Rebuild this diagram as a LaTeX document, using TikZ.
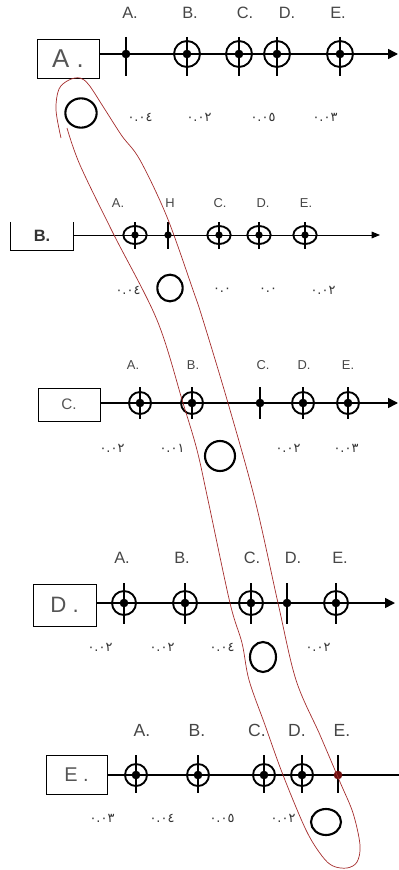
\documentclass[tikz,border=0pt]{standalone}
\usepackage{fontspec}
\setmainfont{Liberation Sans}
\newfontfamily\arabicfont[Script=Arabic]{DejaVu Sans}
\usetikzlibrary{arrows.meta}
\definecolor{loopred}{RGB}{165,45,45}
\definecolor{txtgray}{RGB}{70,70,70}
\definecolor{boxgray}{RGB}{85,85,85}
\definecolor{dotred}{RGB}{110,15,15}

\begin{document}
\begin{tikzpicture}[x=0.03cm,y=-0.03cm,
    every node/.style={inner sep=0pt},
    rowbox/.style={draw,line width=0.8pt,inner sep=0pt,text=boxgray},
    mlabel/.style={text=txtgray},
    val/.style={font=\arabicfont\fontsize{11}{11}\selectfont,text=black!80},
    tickln/.style={line width=1.6pt},
    ringln/.style={line width=1.6pt},
    axis/.style={line width=1.3pt,-{Triangle[length=0.3cm,width=0.3cm]}},
    hollow/.style={line width=1.8pt}]
  \useasboundingbox (0,0) rectangle (399,870);

  % --- row A ---
  \node[rowbox,minimum width=1.86cm,minimum height=1.17cm,
        font=\fontsize{22}{22}\selectfont] (boxA) at (68,58.5) {A .};
  \coordinate (endA) at (398,54);
  \draw[axis] (boxA.east |- endA) -- (endA);
  \foreach \x/\t in {130/A,190/B,245/C,287/D,338/E}
    \node[mlabel,font=\fontsize{14}{14}\selectfont] (lblA-\t) at (\x,13) {\t.};
  \foreach \x in {187,239,277,340}{
    \draw[tickln] (\x,37) -- (\x,76);
    \draw[ringln] (\x,54) circle[radius=0.39cm];
    \fill (\x,54) circle[radius=0.13cm];
  }
  \draw[tickln] (126,37) -- (126,76);
  \fill (126,54) circle[radius=0.13cm];
  \foreach \x/\v [count=\i] in {140/٠.٠٤,199/٠.٠٢,263/٠.٠٥,325/٠.٠٣}
    \node[val] (valA-\i) at (\x,117) {\v};
  \draw[hollow] (81,113) ellipse[x radius=0.47cm,y radius=0.44cm];

  % --- row B (open box, thin axis) ---
  \node[minimum width=1.86cm,minimum height=0.84cm,text=black!80,
        font=\bfseries\fontsize{14}{14}\selectfont] (boxB) at (42,236) {B.};
  \draw[line width=0.8pt] (boxB.north west) |- (boxB.south east) -- (boxB.north east);
  \coordinate (endB) at (380,235);
  \draw[line width=0.8pt,-{Triangle[length=0.25cm,width=0.2cm]}] (boxB.east |- endB) -- (endB);
  \foreach \x/\t in {118/A.,170/H,220/C.,263/D.,306/E.}
    \node[mlabel,font=\fontsize{11}{11}\selectfont] (lblB-\x) at (\x,203) {\t};
  \foreach \x in {135,219,259,305}{
    \draw[tickln] (\x,222) -- (\x,249);
    \draw[ringln] (\x,235) ellipse[x radius=0.35cm,y radius=0.27cm];
    \fill (\x,235) circle[radius=0.11cm];
  }
  \draw[tickln] (168,222) -- (168,249);
  \fill (168,235) circle[radius=0.11cm];
  \foreach \x/\v [count=\i] in {128/٠.٠٤,222/٠.٠,268/٠.٠,323/٠.٠٢}
    \node[val] (valB-\i) at (\x,290) {\v};
  \draw[hollow] (170,288) ellipse[x radius=0.38cm,y radius=0.4cm];

  % --- row C ---
  \node[rowbox,minimum width=1.86cm,minimum height=0.99cm,
        font=\fontsize{13}{13}\selectfont] (boxC) at (69,404.5) {C.};
  \coordinate (endC) at (398,403);
  \draw[axis] (boxC.east |- endC) -- (endC);
  \foreach \x/\t in {133/A,193/B,263/C,304/D,348/E}
    \node[mlabel,font=\fontsize{11}{11}\selectfont] (lblC-\t) at (\x,365) {\t.};
  \foreach \x in {140,192,303,348}{
    \draw[tickln] (\x,387) -- (\x,419);
    \draw[ringln] (\x,403) circle[radius=0.33cm];
    \fill (\x,403) circle[radius=0.13cm];
  }
  \draw[tickln] (260,387) -- (260,419);
  \fill (260,403) circle[radius=0.13cm];
  \foreach \x/\v [count=\i] in {112/٠.٠٢,172/٠.٠١,288/٠.٠٢,346/٠.٠٣}
    \node[val] (valC-\i) at (\x,448) {\v};
  \draw[hollow] (220,456) ellipse[x radius=0.45cm,y radius=0.45cm];

  % --- row D ---
  \node[rowbox,minimum width=1.89cm,minimum height=1.26cm,
        font=\fontsize{19}{19}\selectfont] (boxD) at (64.5,605) {D .};
  \coordinate (endD) at (395,603);
  \draw[axis] (boxD.east |- endD) -- (endD);
  \foreach \x/\t in {122/A,182/B,252/C,293/D,340/E}
    \node[mlabel,font=\fontsize{14}{14}\selectfont] (lblD-\t) at (\x,558) {\t.};
  \foreach \x in {124,185,251,336}{
    \draw[tickln] (\x,583) -- (\x,624);
    \draw[ringln] (\x,603) circle[radius=0.36cm];
    \fill (\x,603) circle[radius=0.13cm];
  }
  \draw[tickln] (287,583) -- (287,624);
  \fill (287,603) circle[radius=0.13cm];
  \foreach \x/\v [count=\i] in {100/٠.٠٢,162/٠.٠٢,222/٠.٠٤,318/٠.٠٢}
    \node[val] (valD-\i) at (\x,647) {\v};
  \draw[hollow] (263,657) ellipse[x radius=0.39cm,y radius=0.45cm];

  % --- row E (arrow runs off the right edge) ---
  \node[rowbox,minimum width=1.83cm,minimum height=1.17cm,
        font=\fontsize{17}{17}\selectfont] (boxE) at (76.5,774.5) {E .};
  \coordinate (endE) at (399,775);
  \draw[line width=1.3pt] (boxE.east |- endE) -- (endE);
  \foreach \x/\t in {142/A,197/B,257/C,297/D,342/E}
    \node[mlabel,font=\fontsize{15}{15}\selectfont] (lblE-\t) at (\x,730) {\t.};
  \foreach \x in {136,198,264,302}{
    \draw[tickln] (\x,755) -- (\x,793);
    \draw[ringln] (\x,775) circle[radius=0.33cm];
    \fill (\x,775) circle[radius=0.13cm];
  }
  \draw[tickln] (338,755) -- (338,793);
  \fill[dotred] (338,775) circle[radius=0.13cm];
  \foreach \x/\v [count=\i] in {102/٠.٠٣,162/٠.٠٤,222/٠.٠٥,283/٠.٠٢}
    \node[val] (valE-\i) at (\x,818) {\v};
  \draw[hollow] (326,822) ellipse[x radius=0.45cm,y radius=0.39cm];

  % --- hand-drawn red loop through the diagonal ---
  \draw[loopred,line width=0.6pt] plot[smooth,tension=0.55] coordinates {
    (61,138) (56,110) (59,89) (69,80) (80,78) (89,85) (104,108) (122,136)
    (140,160) (167,217) (193,290) (203,320) (228,403) (255,500) (278,603)
    (296,680) (320,735) (340,782) (353,813) (360,845) (357,862) (347,868)
    (333,866) (322,856) (306,830) (283,775) (265,725) (249,680) (242,643)
    (230,603) (208,500) (197,450) (183,403) (157,320) (113,233) (80,165)
    (67,128)};
\end{tikzpicture}
\end{document}
